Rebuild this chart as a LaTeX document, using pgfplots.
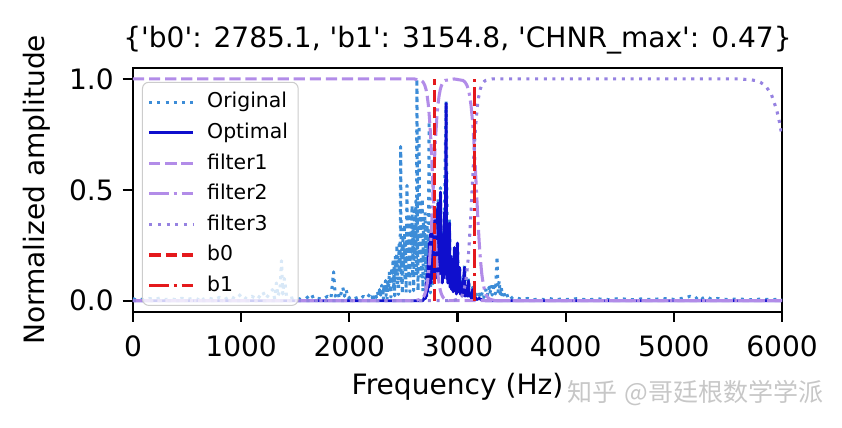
\documentclass[border=0pt]{standalone}
\usepackage{pgfplots}
\pgfplotsset{compat=1.18}
\usepackage{fontspec}
\setmainfont{DejaVu Sans}
\newfontfamily\dv{DejaVu Sans}
\newfontfamily\cjk{Noto Sans CJK SC}
\definecolor{origc}{RGB}{60,140,215}
\definecolor{optc}{RGB}{15,15,205}
\definecolor{f1c}{RGB}{178,140,232}
\definecolor{f3c}{RGB}{150,130,225}
\definecolor{redc}{RGB}{228,25,28}
\begin{document}
\begin{tikzpicture}
\begin{axis}[
  name=ax,
  width=254.4pt, height=95.6pt, scale only axis,
  xmin=0, xmax=6000, ymin=-0.05, ymax=1.05,
  xtick={0,1000,2000,3000,4000,5000,6000},
  ytick={0,0.5,1}, yticklabels={0.0,0.5,1.0},
  /pgf/number format/1000 sep={},
  /pgf/number format/assume math mode=true,
  tick align=outside, major tick length=4pt,
  xtick pos=bottom, ytick pos=left,
  axis line style={line width=0.9pt},
  every tick/.style={line width=0.9pt, black},
  ticklabel style={font=\fontsize{11}{13}\selectfont},
  xticklabel style={yshift=-2pt},
  title={\{'b0': 2785.1, 'b1': 3154.8, 'CHNR\_max': 0.47\}},
  title style={font=\dv\fontsize{11}{13}\selectfont, at={(0.5,1)}, anchor=base, yshift=1.9pt},
  xlabel={Frequency (Hz)},
  xlabel style={font=\fontsize{11}{13}\selectfont, at={([yshift=-32.5pt]axis description cs:0.5,0)}, anchor=base},
  ylabel={Normalized amplitude},
  ylabel style={font=\fontsize{11}{13}\selectfont, at={([xshift=-37.6pt]axis description cs:0,0.5)}, anchor=center},
  legend cell align=left,
  legend image code/.code={\draw[#1] (0cm,0cm) -- (0.6cm,0cm); \path (0.6cm+3pt,0cm);},
  legend style={at={(0.0139,0.943)}, anchor=north west, draw={rgb,255:red,204;green,204;blue,204},
    rounded corners=2.5pt, fill=white, fill opacity=0.8, text opacity=1,
    font=\fontsize{8}{9.5}\selectfont, row sep=0.4pt, inner sep=2pt},
]
\addplot[origc, line width=1.2pt, dash pattern=on 1.2pt off 2pt, line join=round] coordinates {
(0,0.01) (25,0.004) (50,0.008) (100,0.005) (150,0.01) (200,0.006) (250,0.012) (300,0.005) (350,0.009) (400,0.004) (450,0.011) (500,0.006) (550,0.01) (600,0.005) (620,0.02) (650,0.006) (700,0.012) (750,0.005) (800,0.015) (850,0.006) (900,0.02) (950,0.007) (1000,0.03) (1050,0.008) (1100,0.02) (1150,0.006) (1200,0.04) (1230,0.01) (1260,0.03) (1290,0.05) (1310,0.01) (1326,0.08) (1340,0.02) (1360,0.05) (1373,0.18) (1385,0.03) (1400,0.1) (1420,0.02) (1450,0.01) (1500,0.015) (1550,0.006) (1600,0.01) (1650,0.03) (1670,0.008) (1700,0.012) (1750,0.006) (1800,0.02) (1830,0.01) (1855,0.13) (1870,0.02) (1890,0.04) (1910,0.01) (1940,0.06) (1955,0.02) (1970,0.05) (1990,0.01) (2020,0.02) (2050,0.01) (2080,0.015) (2100,0.008) (2130,0.02) (2160,0.01) (2190,0.03)
(2200,0.02) (2210,0.01) (2220,0.03) (2230,0.012) (2240,0.035) (2250,0.015) (2260,0.04) (2270,0.02) (2280,0.05) (2290,0.025)
(2300,0.070) (2305,0.018) (2310,0.057) (2315,0.008) (2320,0.074) (2325,0.038) (2330,0.053) (2335,0.091) (2340,0.024) (2345,0.073) (2350,0.010) (2355,0.097) (2360,0.052) (2365,0.074) (2370,0.132) (2375,0.035) (2380,0.111) (2385,0.016) (2390,0.148) (2395,0.077) (2400,0.108) (2405,0.189) (2410,0.050) (2415,0.155) (2420,0.022) (2425,0.203) (2430,0.105) (2435,0.146) (2440,0.252) (2445,0.065) (2450,0.203) (2455,0.028) (2460,0.254) (2465,0.130) (2470,0.176) (2475,0.695) (2480,0.077) (2485,0.234) (2490,0.032) (2495,0.292) (2500,0.149) (2505,0.202) (2510,0.344) (2515,0.088) (2520,0.269) (2525,0.037) (2530,0.335) (2533,0.52) (2535,0.171) (2540,0.232) (2545,0.393) (2550,0.100) (2555,0.304) (2560,0.041) (2565,0.374) (2570,0.189) (2575,0.255) (2580,0.430) (2585,0.109) (2590,0.330) (2595,0.045) (2600,0.405) (2605,0.203) (2610,0.27) (2615,0.45) (2620,0.113) (2625,1.0) (2630,0.338) (2635,0.045) (2640,0.405) (2645,0.79) (2650,0.203) (2655,0.267) (2660,0.44) (2665,0.109) (2670,0.323) (2675,0.46) (2680,0.042) (2685,0.374) (2690,0.185) (2695,0.243) (2700,0.40) (2705,0.099) (2710,0.293) (2715,0.039) (2720,0.342) (2725,0.169) (2730,0.222) (2738,0.81) (2740,0.09) (2745,0.266) (2750,0.035) (2755,0.308) (2760,0.15) (2765,0.195) (2770,0.317) (2775,0.077) (2780,0.225)
(2790,0.3) (2800,0.43) (2810,0.2) (2820,0.46) (2830,0.15) (2843,0.51) (2850,0.2) (2860,0.32) (2870,0.12) (2880,0.42) (2895,0.9) (2905,0.3) (2915,0.1) (2926,0.37) (2935,0.08) (2950,0.2) (2960,0.06) (2972,0.25) (2985,0.13) (3000,0.27) (3010,0.05) (3019,0.16) (3030,0.04) (3045,0.09) (3055,0.03) (3065,0.16) (3075,0.04) (3090,0.06) (3102,0.1) (3115,0.03) (3130,0.05) (3140,0.06) (3150,0.02) (3165,0.04) (3180,0.015) (3200,0.03) (3215,0.01) (3230,0.04) (3245,0.015) (3260,0.05) (3275,0.02) (3290,0.06) (3300,0.03) (3310,0.07) (3320,0.025) (3330,0.05) (3340,0.08) (3350,0.03) (3366,0.2) (3375,0.04) (3385,0.09) (3395,0.03) (3405,0.06) (3415,0.02) (3425,0.045) (3440,0.015) (3455,0.03) (3470,0.01) (3490,0.02) (3510,0.008) (3550,0.012) (3600,0.005) (3650,0.01) (3700,0.004) (3750,0.008) (3800,0.005) (3850,0.01) (3900,0.004) (3950,0.007) (4000,0.005) (4100,0.009) (4200,0.004) (4300,0.008) (4400,0.005) (4500,0.01) (4600,0.004) (4700,0.008) (4800,0.005) (4900,0.01) (5000,0.006) (5100,0.012) (5150,0.02) (5200,0.008) (5230,0.022) (5260,0.01) (5300,0.018) (5350,0.006) (5400,0.01) (5500,0.005) (5600,0.008) (5700,0.004) (5800,0.007) (5900,0.005) (6000,0.006)
};
\addlegendentry{Original}
\addplot[optc, line width=1.1pt, line join=round] coordinates {
(0,0) (2680,0) (2690,0.01) (2700,0.03) (2705,0.01) (2710,0.08) (2715,0.02) (2720,0.12) (2725,0.04) (2730,0.2) (2735,0.06) (2740,0.26) (2745,0.1) (2750,0.3) (2755,0.08) (2760,0.28) (2765,0.12) (2770,0.33) (2775,0.1) (2780,0.36) (2785,0.15) (2790,0.3) (2795,0.12) (2800,0.41) (2805,0.18) (2810,0.35) (2815,0.1) (2820,0.44) (2825,0.2) (2830,0.38) (2835,0.12) (2843,0.49) (2850,0.15) (2855,0.3) (2860,0.08) (2865,0.25) (2870,0.1) (2880,0.4) (2885,0.12) (2895,0.89) (2900,0.1) (2905,0.28) (2910,0.08) (2918,0.3) (2922,0.1) (2926,0.35) (2932,0.06) (2940,0.2) (2945,0.05) (2955,0.18) (2960,0.04) (2972,0.24) (2978,0.05) (2985,0.12) (2990,0.03) (3000,0.26) (3005,0.04) (3012,0.1) (3019,0.15) (3025,0.03) (3035,0.08) (3042,0.02) (3050,0.06) (3065,0.15) (3070,0.02) (3080,0.05) (3090,0.02) (3102,0.09) (3108,0.02) (3120,0.03) (3130,0.01) (3140,0.05) (3148,0.01) (3160,0.02) (3175,0.005) (3200,0.01) (3230,0.003) (3260,0) (6000,0)
};
\addlegendentry{Optimal}
\addplot[f1c, line width=1.2pt, dash pattern=on 4.4pt off 1.9pt] coordinates {
(0,1) (2600,1) (2665,0.9933) (2676,0.989) (2687,0.982) (2698,0.9707) (2709,0.9526) (2720,0.9241) (2731,0.8808) (2742,0.8176) (2753,0.7311) (2764,0.6225) (2775,0.5) (2786,0.3775) (2797,0.2689) (2808,0.1824) (2819,0.1192) (2830,0.0759) (2841,0.0474) (2852,0.0293) (2863,0.018) (2874,0.011) (2885,0.0067) (2920,0) (6000,0)
};
\addlegendentry{filter1}
\addplot[f1c, line width=1.2pt, dash pattern=on 7.7pt off 1.9pt on 1.2pt off 1.9pt] coordinates {
(0,0) (2600,0) (2665,0.0067) (2676,0.011) (2687,0.018) (2698,0.0293) (2709,0.0474) (2720,0.0759) (2731,0.1192) (2742,0.1824) (2753,0.2689) (2764,0.3775) (2775,0.5) (2786,0.6225) (2797,0.7311) (2808,0.8176) (2819,0.8808) (2830,0.9241) (2841,0.9526) (2852,0.9707) (2863,0.982) (2874,0.989) (2885,0.9933) (2970,1) (3050,0.9933) (3062.5,0.989) (3075,0.982) (3087.5,0.9707) (3100,0.9526) (3112.5,0.9241) (3125,0.8808) (3137.5,0.8176) (3150,0.7311) (3162.5,0.6225) (3175,0.5) (3187.5,0.3775) (3200,0.2689) (3212.5,0.1824) (3225,0.1192) (3237.5,0.0759) (3250,0.0474) (3262.5,0.0293) (3275,0.018) (3287.5,0.011) (3300,0.0067) (3350,0) (6000,0)
};
\addlegendentry{filter2}
\addplot[f3c, line width=1.2pt, dash pattern=on 1.2pt off 2.2pt] coordinates {
(0,0) (2950,0) (3010,0.0067) (3022.5,0.011) (3035,0.018) (3047.5,0.0293) (3060,0.0474) (3072.5,0.0759) (3085,0.1192) (3097.5,0.1824) (3110,0.2689) (3122.5,0.3775) (3135,0.5) (3147.5,0.6225) (3160,0.7311) (3172.5,0.8176) (3185,0.8808) (3197.5,0.9241) (3210,0.9526) (3222.5,0.9707) (3235,0.982) (3247.5,0.989) (3260,0.9933) (3320,1) (5600,1) (5700,0.997) (5750,0.993) (5800,0.985) (5850,0.967) (5900,0.932) (5950,0.861) (5975,0.808) (6000,0.74)
};
\addlegendentry{filter3}
\addplot[redc, line width=1.3pt, dash pattern=on 4.5pt off 2pt] coordinates {(2785.1,0) (2785.1,1)};
\addlegendentry{b0}
\addplot[redc, line width=1.3pt, dash pattern=on 7.7pt off 1.9pt on 1.2pt off 1.9pt] coordinates {(3154.8,0) (3154.8,1)};
\addlegendentry{b1}
\end{axis}
\node[text=black!22, font=\cjk\fontsize{9.8}{11}\selectfont, anchor=center] at ([shift={(220.4pt,-31.7pt)}]ax.south west) {知乎\hspace{0.3em}@哥廷根数学学派};
\pgfresetboundingbox
\path ([shift={(-52.1pt,-45.5pt)}]ax.south west) rectangle ([shift={(23.5pt,26.6pt)}]ax.north east);
\end{tikzpicture}
\end{document}
